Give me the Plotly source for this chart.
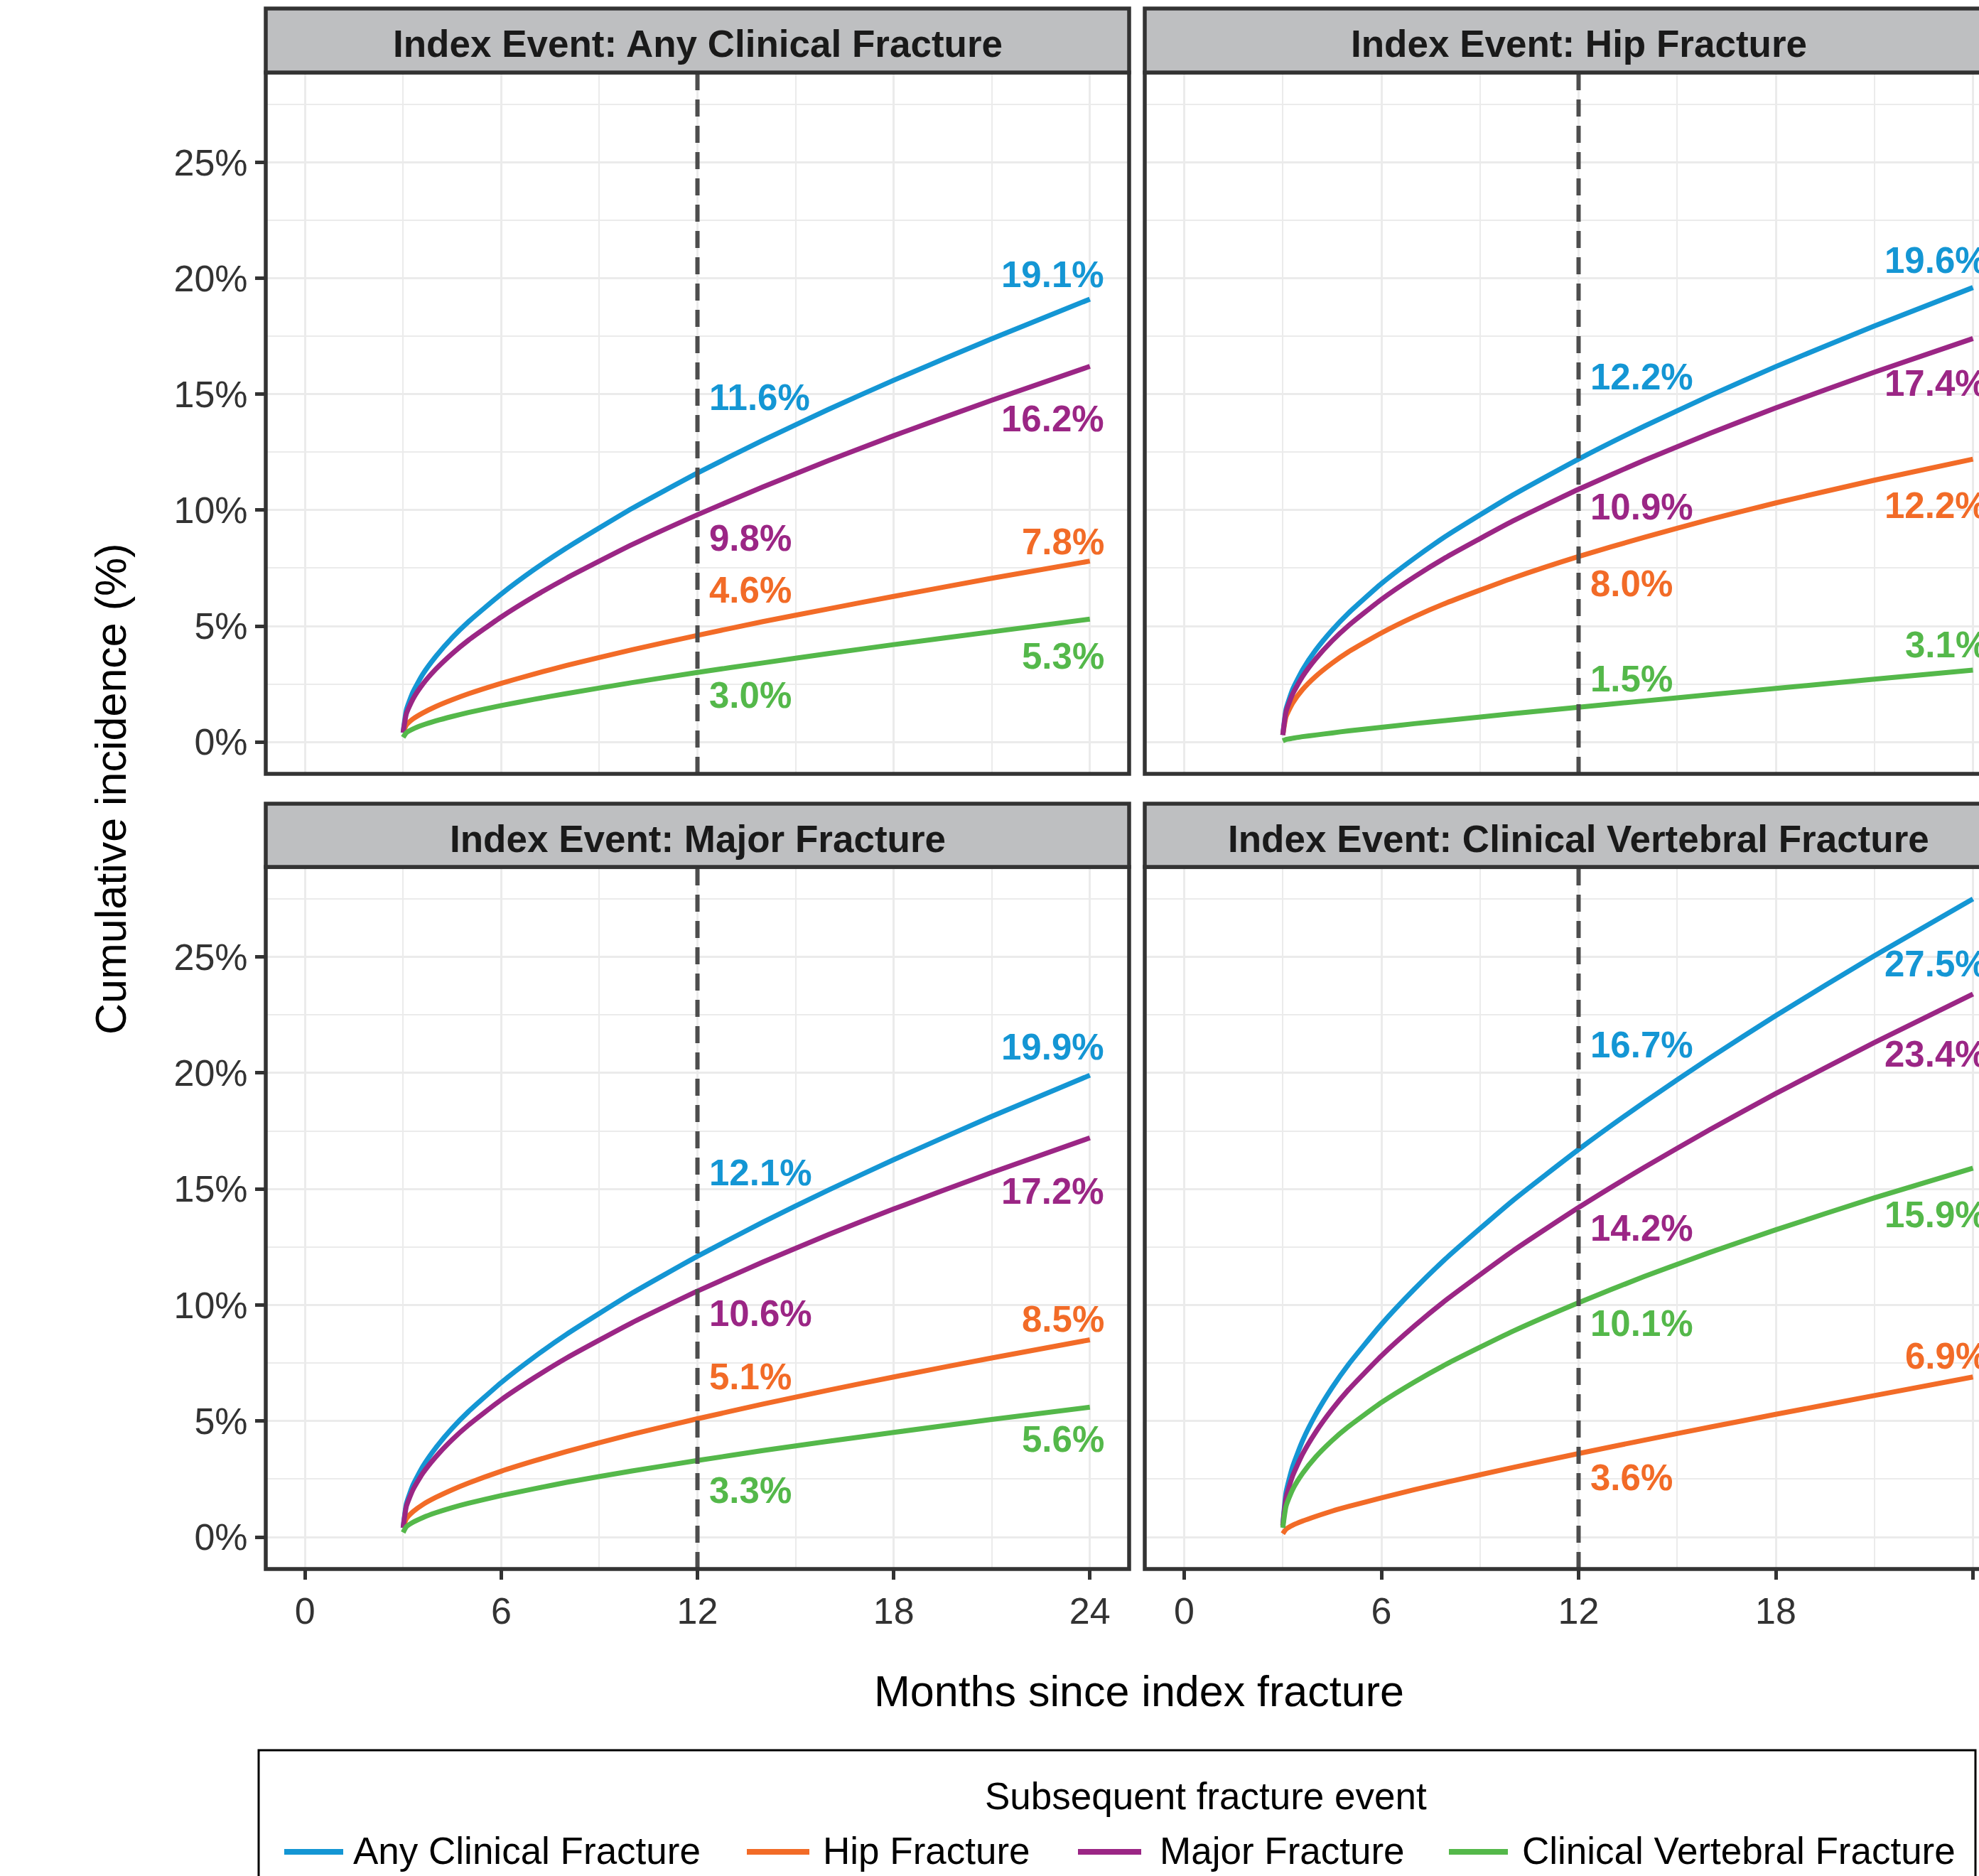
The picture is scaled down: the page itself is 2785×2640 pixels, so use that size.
import plotly.graph_objects as go

W, H = 2785, 2640

# ---------------- data ----------------
months = [3, 3.1, 3.3, 3.6, 4, 4.5, 5, 6, 7, 8, 10, 12, 14, 16, 18, 21, 24]

series_names = ["Any Clinical Fracture", "Hip Fracture", "Major Fracture", "Clinical Vertebral Fracture"]
series_colors = ["#1496D4", "#F26B27", "#9B2685", "#54B84A"]

panel_titles = [
    "Index Event: Any Clinical Fracture",
    "Index Event: Hip Fracture",
    "Index Event: Major Fracture",
    "Index Event: Clinical Vertebral Fracture",
]

# Index event: any clinical fracture (cumulative incidence, %)
anyidx_any = [0.40, 1.39, 2.15, 2.92, 3.69, 4.50, 5.19, 6.38, 7.43, 8.37, 10.07, 11.6, 13.01, 14.34, 15.60, 17.39, 19.1]
anyidx_hip = [0.40, 0.73, 0.99, 1.25, 1.53, 1.82, 2.08, 2.53, 2.93, 3.30, 3.98, 4.6, 5.19, 5.74, 6.28, 7.06, 7.8]
anyidx_major = [0.40, 1.22, 1.85, 2.49, 3.14, 3.81, 4.39, 5.39, 6.27, 7.07, 8.51, 9.8, 11.00, 12.13, 13.21, 14.74, 16.2]
anyidx_vert = [0.20, 0.40, 0.56, 0.73, 0.91, 1.10, 1.27, 1.57, 1.84, 2.09, 2.56, 3.0, 3.41, 3.81, 4.20, 4.75, 5.3]

# Index event: hip fracture
hipidx_any = [0.30, 1.42, 2.27, 3.11, 3.96, 4.82, 5.56, 6.83, 7.92, 8.91, 10.65, 12.2, 13.62, 14.94, 16.19, 17.94, 19.6]
hipidx_hip = [0.30, 1.10, 1.68, 2.26, 2.83, 3.40, 3.89, 4.70, 5.40, 6.01, 7.07, 8.0, 8.83, 9.60, 10.31, 11.29, 12.2]
hipidx_major = [0.30, 1.31, 2.07, 2.82, 3.58, 4.36, 5.02, 6.15, 7.12, 7.99, 9.53, 10.9, 12.15, 13.31, 14.41, 15.95, 17.4]
hipidx_vert = [0.05, 0.11, 0.16, 0.23, 0.30, 0.39, 0.48, 0.63, 0.79, 0.93, 1.22, 1.5, 1.77, 2.04, 2.31, 2.71, 3.1]

# Index event: major fracture
majidx_any = [0.40, 1.44, 2.24, 3.04, 3.85, 4.69, 5.41, 6.66, 7.75, 8.74, 10.51, 12.1, 13.57, 14.95, 16.26, 18.13, 19.9]
majidx_hip = [0.40, 0.79, 1.09, 1.40, 1.71, 2.04, 2.33, 2.84, 3.28, 3.69, 4.43, 5.1, 5.73, 6.33, 6.90, 7.72, 8.5]
majidx_major = [0.40, 1.33, 2.04, 2.75, 3.46, 4.20, 4.83, 5.92, 6.86, 7.72, 9.24, 10.6, 11.85, 13.03, 14.14, 15.71, 17.2]
majidx_vert = [0.20, 0.45, 0.64, 0.84, 1.05, 1.27, 1.46, 1.79, 2.08, 2.36, 2.85, 3.3, 3.73, 4.13, 4.51, 5.07, 5.6]

# Index event: clinical vertebral fracture
vertidx_any = [0.50, 1.94, 3.04, 4.15, 5.28, 6.44, 7.44, 9.17, 10.68, 12.05, 14.50, 16.7, 18.74, 20.65, 22.47, 25.05, 27.5]
vertidx_hip = [0.15, 0.34, 0.51, 0.69, 0.89, 1.12, 1.32, 1.69, 2.04, 2.37, 3.00, 3.6, 4.18, 4.74, 5.29, 6.10, 6.9]
vertidx_major = [0.50, 1.71, 2.64, 3.57, 4.52, 5.50, 6.35, 7.81, 9.09, 10.25, 12.33, 14.2, 15.93, 17.56, 19.11, 21.31, 23.4]
vertidx_vert = [0.40, 1.34, 2.05, 2.74, 3.45, 4.16, 4.76, 5.80, 6.68, 7.47, 8.87, 10.1, 11.23, 12.27, 13.24, 14.62, 15.9]

# Printed values at 12 and 24 months (order: Any, Hip, Major, Vertebral)
lab12_any = [11.6, 4.6, 9.8, 3.0]
lab12_hip = [12.2, 8.0, 10.9, 1.5]
lab12_major = [12.1, 5.1, 10.6, 3.3]
lab12_vert = [16.7, 3.6, 14.2, 10.1]
lab24_any = [19.1, 7.8, 16.2, 5.3]
lab24_hip = [19.6, 12.2, 17.4, 3.1]
lab24_major = [19.9, 8.5, 17.2, 5.6]
lab24_vert = [27.5, 6.9, 23.4, 15.9]

x_ticks = [0, 6, 12, 18, 24]
y_ticks = [0, 5, 10, 15, 20, 25]
y_ticktext = ["0%", "5%", "10%", "15%", "20%", "25%"]

# ---------------- style ----------------
FONT = "Liberation Sans, Arial, sans-serif"
DARK = "#333333"
GRID = "#EBEBEB"
STRIP = "#BEBFC1"
TICKC = "#333333"

# label vertical offsets (in % units) relative to printed value
off12 = [[3.26, 1.96, -1.0, -1.0], [3.53, -1.17, -0.76, 1.21],
         [3.6, 1.8, -0.98, -1.3], [4.5, -1.05, -0.9, -0.9]]
off24 = [[1.07, 0.82, -2.26, -1.61], [1.17, -2.0, -1.94, 1.08],
         [1.2, 0.9, -2.3, -1.4], [-2.8, 0.9, -2.6, -2.0]]

panels = [
    dict(curves=[anyidx_any, anyidx_hip, anyidx_major, anyidx_vert], l12=lab12_any, l24=lab24_any),
    dict(curves=[hipidx_any, hipidx_hip, hipidx_major, hipidx_vert], l12=lab12_hip, l24=lab24_hip),
    dict(curves=[majidx_any, majidx_hip, majidx_major, majidx_vert], l12=lab12_major, l24=lab24_major),
    dict(curves=[vertidx_any, vertidx_hip, vertidx_major, vertidx_vert], l12=lab12_vert, l24=lab24_vert),
]

# geometry in pixels
LEFT = (374, 1589)
RIGHT = (1611, 2832)
TOP_STRIP = (12, 102)
TOP_PLOT = (102, 1089)
BOT_STRIP = (1131, 1220)
BOT_PLOT = (1220, 2208)
XMIN, XMAX = -1.2, 25.2
YMIN, YMAX = -1.375, 28.875

placement = [(LEFT, TOP_STRIP, TOP_PLOT, False, True),
             (RIGHT, TOP_STRIP, TOP_PLOT, False, False),
             (LEFT, BOT_STRIP, BOT_PLOT, True, True),
             (RIGHT, BOT_STRIP, BOT_PLOT, True, False)]


def fx(px):
    return px / W


def fy(py):
    return 1 - py / H


fig = go.Figure()
layout = dict(width=W, height=H, margin=dict(l=0, r=0, t=0, b=0),
              paper_bgcolor="white", plot_bgcolor="white", showlegend=False)
shapes = []
annotations = []

for k, (panel, (xs, strip, plot, bottom, left)) in enumerate(zip(panels, placement), start=1):
    xa = "x" if k == 1 else f"x{k}"
    ya = "y" if k == 1 else f"y{k}"
    xkey = "xaxis" if k == 1 else f"xaxis{k}"
    ykey = "yaxis" if k == 1 else f"yaxis{k}"
    x0, x1 = xs
    xr_max = XMAX if x1 <= W else XMIN + (XMAX - XMIN) * (W - x0) / (x1 - x0)
    layout[xkey] = dict(
        domain=[fx(x0), min(fx(x1), 1.0)], range=[XMIN, xr_max], anchor=ya,
        tickvals=x_ticks, showgrid=True, gridcolor=GRID, gridwidth=3,
        minor=dict(tickvals=[3, 9, 15, 21], showgrid=True, gridcolor=GRID, gridwidth=2),
        zeroline=False, showline=False,
        ticks="outside" if bottom else "", ticklen=14, tickwidth=5, tickcolor=DARK,
        showticklabels=bottom, tickfont=dict(family=FONT, size=52, color=TICKC),
        fixedrange=True)
    layout[ykey] = dict(
        domain=[fy(plot[1]), fy(plot[0])], range=[YMIN, YMAX], anchor=xa,
        tickvals=y_ticks, ticktext=y_ticktext, showgrid=True, gridcolor=GRID, gridwidth=3,
        minor=dict(tickvals=[2.5, 7.5, 12.5, 17.5, 22.5, 27.5], showgrid=True, gridcolor=GRID, gridwidth=2),
        zeroline=False, showline=False,
        ticks="outside" if left else "", ticklen=14, tickwidth=5, tickcolor=DARK,
        showticklabels=left, tickfont=dict(family=FONT, size=52, color=TICKC),
        fixedrange=True)

    for name, color, vals in zip(series_names, series_colors, panel["curves"]):
        fig.add_trace(go.Scatter(x=months, y=vals, mode="lines", name=name,
                                 line=dict(color=color, width=7, shape="spline", smoothing=0.5),
                                 xaxis=xa, yaxis=ya, showlegend=False, hoverinfo="skip"))

    # dashed reference line at 12 months
    shapes.append(dict(type="line", xref=xa, yref=f"{ya} domain", x0=12, x1=12, y0=0, y1=1,
                       line=dict(color="#4D4D4D", width=6, dash="24px,13px"), layer="above"))
    # panel border
    shapes.append(dict(type="rect", xref="paper", yref="paper", x0=fx(x0), x1=fx(x1),
                       y0=fy(plot[1]), y1=fy(plot[0]), line=dict(color=DARK, width=5.5),
                       fillcolor="rgba(0,0,0,0)", layer="above"))
    # strip
    shapes.append(dict(type="rect", xref="paper", yref="paper", x0=fx(x0), x1=fx(x1),
                       y0=fy(strip[1]), y1=fy(strip[0]), line=dict(color=DARK, width=5.5),
                       fillcolor=STRIP, layer="above"))
    annotations.append(dict(text=panel_titles[k - 1], xref="paper", yref="paper",
                            x=fx((x0 + x1) / 2), y=fy((strip[0] + strip[1]) / 2 + 5),
                            xanchor="center", yanchor="middle", showarrow=False,
                            font=dict(family=FONT, size=53, color="#1A1A1A", weight="bold")))

    for i, color in enumerate(series_colors):
        v12 = panel["l12"][i]
        v24 = panel["l24"][i]
        annotations.append(dict(text=f"{v12:.1f}%", xref=xa, yref=ya, x=12, y=v12 + off12[k - 1][i],
                                xanchor="left", yanchor="middle", xshift=14, showarrow=False,
                                font=dict(family=FONT, size=51, color=color, weight="bold")))
        annotations.append(dict(text=f"{v24:.1f}%", xref=xa, yref=ya, x=24, y=v24 + off24[k - 1][i],
                                xanchor="right", yanchor="middle", xshift=22, showarrow=False,
                                font=dict(family=FONT, size=51, color=color, weight="bold")))

# axis titles
annotations.append(dict(text="Months since index fracture", xref="paper", yref="paper",
                        x=fx(1603), y=fy(2380), xanchor="center", yanchor="middle", showarrow=False,
                        font=dict(family=FONT, size=61, color="black")))
annotations.append(dict(text="Cumulative incidence (%)", xref="paper", yref="paper",
                        x=fx(156), y=fy(1110), xanchor="center", yanchor="middle", showarrow=False,
                        textangle=-90, font=dict(family=FONT, size=61, color="black")))

# legend (drawn manually to match the boxed horizontal key)
shapes.append(dict(type="rect", xref="paper", yref="paper", x0=fx(364), x1=fx(2780),
                   y0=fy(2720), y1=fy(2463), line=dict(color="black", width=3),
                   fillcolor="rgba(0,0,0,0)"))
annotations.append(dict(text="Subsequent fracture event", xref="paper", yref="paper",
                        x=fx(1697), y=fy(2527), xanchor="center", yanchor="middle", showarrow=False,
                        font=dict(family=FONT, size=53, color="black")))
legend_line_px = [(400, 483), (1051, 1139), (1517, 1606), (2039, 2122)]
legend_text_px = [495, 1156, 1630, 2140]
for name, color, (lx0, lx1), tx in zip(series_names, series_colors, legend_line_px, legend_text_px):
    shapes.append(dict(type="line", xref="paper", yref="paper", x0=fx(lx0), x1=fx(lx1),
                       y0=fy(2606), y1=fy(2606), line=dict(color=color, width=8)))
    annotations.append(dict(text=name, xref="paper", yref="paper", x=fx(tx), y=fy(2604),
                            xanchor="left", yanchor="middle", showarrow=False,
                            font=dict(family=FONT, size=53, color="black")))

layout["shapes"] = shapes
layout["annotations"] = annotations
fig.update_layout(**layout)

fig.write_html("out.html", config={"displayModeBar": False},
               post_script="document.body.style.margin='0';document.body.style.overflow='hidden';")
